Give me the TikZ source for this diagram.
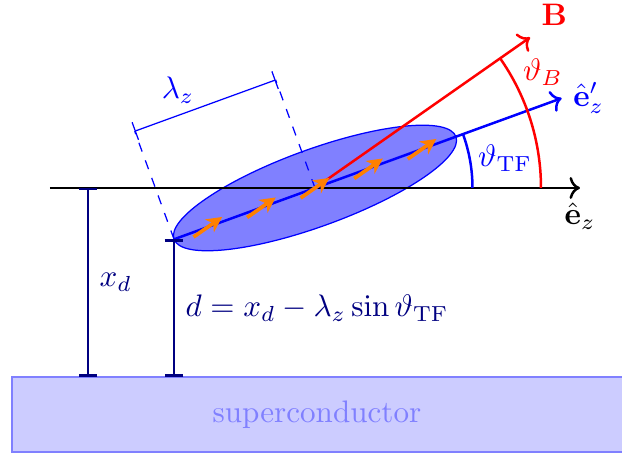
\documentclass[tikz,border=0pt]{standalone}
\usepackage{tikz}
\usetikzlibrary{arrows.meta,calc}
\usepackage{amsmath}
\definecolor{navyline}{HTML}{000080}
\definecolor{scfill}{HTML}{CCCCFF}
\definecolor{scedge}{HTML}{8080FF}

\begin{document}
\begin{tikzpicture}[x=0.565cm,y=0.565cm]
  \useasboundingbox (-6.3,-5.32) rectangle (6.14,3.76);
  \coordinate (O) at (0,0);
  \coordinate (L) at (200:3);
  \coordinate (surf) at (0,-3.78);
  \draw[scedge,fill=scfill] (-6.06,-3.78) rectangle (6.16,-5.28);
  \node[scedge] (sc) at (0.04,-4.53) {superconductor};
  \draw[blue,fill=blue!50,rotate=20] (O) ellipse (3 and 0.77);
  \draw[thick,->] (-5.3,0) -- (5.3,0) node[below,yshift=-1pt] (ez) {$\hat{\mathbf{e}}_z$};
  \coordinate (La) at ($(L)+(110:2.3)$);
  \coordinate (Oa) at ($(O)+(110:2.3)$);
  \draw[blue,dashed] (L) -- (La);
  \draw[blue,dashed] (O) -- (Oa);
  \draw[blue,{Bar[width=6pt]}-{Bar[width=6pt]}] (La) -- (Oa);
  \node[blue] (lz) at (-2.74,1.96) {$\lambda_z$};
  \draw[red,thick,->] (O) -- (35:5.25) node[above right] (B) {$\mathbf{B}$};
  \draw[blue,thick,->] (L) -- (20:5.25) node[right] (ep) {$\hat{\mathbf{e}}'_z$};
  \draw[blue,thick] (3.15,0) arc (0:20:3.15);
  \draw[red,thick] (4.52,0) arc (0:35:4.52);
  \node[blue] (tf) at (3.8,0.6) {$\vartheta_{\mathrm{TF}}$};
  \node[red] (tb) at (4.56,2.32) {$\vartheta_B$};
  \foreach \s in {-2,...,2}
    \draw[orange,very thick,-{Stealth[length=5pt,width=5pt,inset=1.5pt]}] ($(20:1.14*\s)+(215:0.35)$) -- ++(35:0.7);
  \draw[navyline,thick,{Bar[width=6pt]}-{Bar[width=6pt]}] (-4.54,0) -- (-4.54,-3.78)
    node[midway,right] (xd) {$x_d$};
  \draw[navyline,thick,{Bar[width=6pt]}-{Bar[width=6pt]}] (L) -- (L |- surf)
    node[midway,right] (d) {$d = x_d - \lambda_z \sin\vartheta_{\mathrm{TF}}$};
\end{tikzpicture}
\end{document}
